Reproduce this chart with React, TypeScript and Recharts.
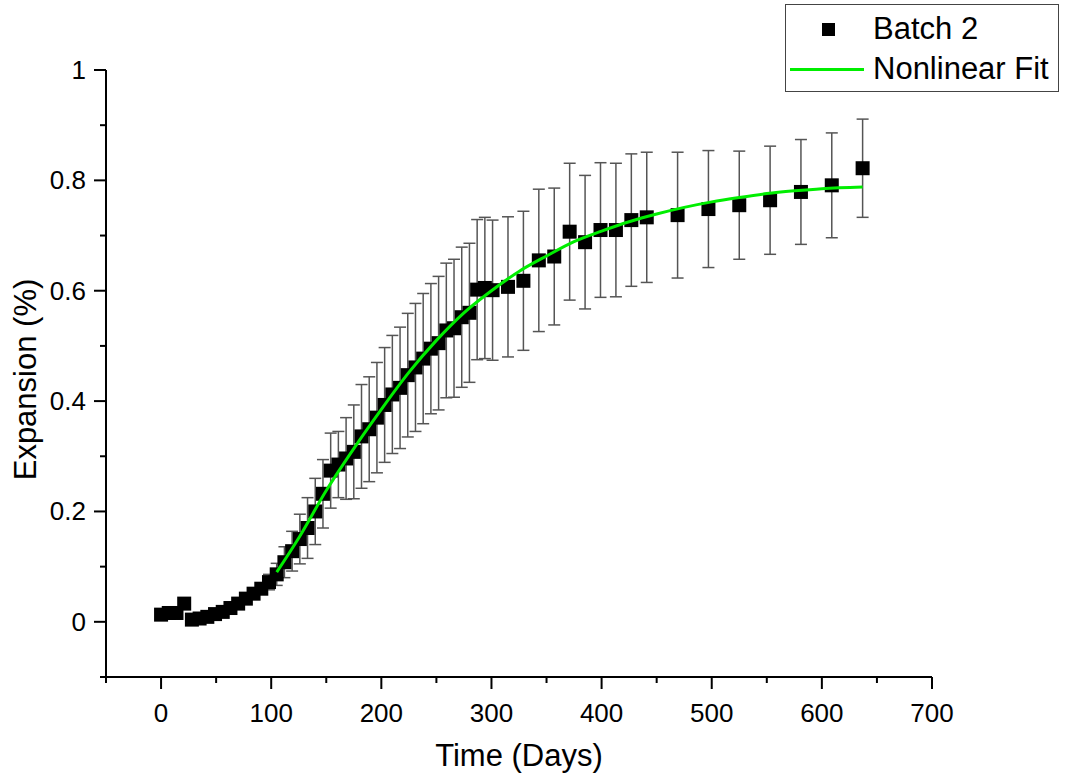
import React from "react";
import {
  ComposedChart, Line, XAxis, YAxis, ErrorBar,
} from "recharts";

// measured points (Batch 2)
const DAYS = [
  0, 7, 14, 21, 28, 35, 42, 49, 56, 63, 70, 77, 84, 91, 98, 105, 112, 119, 126, 133,
  140, 147, 154, 161, 168, 175, 182, 189, 196, 203, 210, 217, 224, 231, 238, 245, 252,
  259, 266, 273, 280, 287, 294, 301, 315, 329, 343, 357, 371, 385, 399, 413, 427, 441,
  469, 497, 525, 553, 581, 609, 637,
];
const EXPANSION = [
  0.013, 0.016, 0.016, 0.033, 0.004, 0.006, 0.009, 0.014, 0.018, 0.025, 0.033, 0.042,
  0.051, 0.060, 0.072, 0.086, 0.108, 0.128, 0.150, 0.170, 0.200, 0.232, 0.274, 0.285,
  0.296, 0.308, 0.336, 0.349, 0.370, 0.393, 0.412, 0.424, 0.447, 0.461, 0.477, 0.495,
  0.505, 0.528, 0.532, 0.552, 0.560, 0.602, 0.605, 0.601, 0.607, 0.618, 0.655, 0.662,
  0.707, 0.688, 0.710, 0.710, 0.728, 0.733, 0.737, 0.748, 0.755, 0.764, 0.779, 0.791,
  0.822,
];
const ERRORS = [
  0.004, 0.004, 0.004, 0.004, 0.004, 0.004, 0.004, 0.004, 0.004, 0.004, 0.005, 0.006,
  0.008, 0.010, 0.014, 0.020, 0.028, 0.036, 0.045, 0.055, 0.060, 0.062, 0.068, 0.060,
  0.074, 0.085, 0.094, 0.095, 0.100, 0.104, 0.107, 0.110, 0.112, 0.116, 0.118, 0.118,
  0.121, 0.122, 0.125, 0.127, 0.126, 0.127, 0.128, 0.127, 0.127, 0.126, 0.129, 0.124,
  0.124, 0.121, 0.122, 0.121, 0.120, 0.118, 0.114, 0.106, 0.098, 0.098, 0.095, 0.095,
  0.089,
];

// nonlinear fit curve
const FIT_DAYS = [105, 125, 150, 175, 200, 225, 250, 275, 300, 325, 350, 375, 400, 425, 450, 475, 500, 525, 550, 575, 600, 637];
const FIT_VALUES = [0.09, 0.152, 0.238, 0.314, 0.385, 0.452, 0.51, 0.56, 0.60, 0.635, 0.663, 0.689, 0.708, 0.725, 0.739, 0.751, 0.761, 0.769, 0.776, 0.781, 0.785, 0.788];

const X_TICKS = [-50, 0, 50, 100, 150, 200, 250, 300, 350, 400, 450, 500, 550, 600, 650, 700];
const X_MAJOR = [0, 100, 200, 300, 400, 500, 600, 700];
const Y_TICKS = [-0.1, 0, 0.1, 0.2, 0.3, 0.4, 0.5, 0.6, 0.7, 0.8, 0.9, 1];
const Y_MAJOR = [0, 0.2, 0.4, 0.6, 0.8, 1];

const FONT = "'Liberation Sans', Arial, sans-serif";
const GREEN = "#00ee00";

const points = DAYS.map((d, i) => ({ day: d, value: EXPANSION[i], err: ERRORS[i] }));
const fit = FIT_DAYS.map((d, i) => ({ day: d, value: FIT_VALUES[i] }));

function XTick({ x, y, payload }: any) {
  const major = X_MAJOR.includes(payload.value);
  return (
    <g>
      <line x1={x} x2={x} y1={y} y2={y + (major ? 12 : 6)} stroke="#000" strokeWidth={2} />
      {major && (
        <text x={x} y={y + 45} textAnchor="middle" fontSize={26} fontFamily={FONT} fill="#000">
          {payload.value}
        </text>
      )}
    </g>
  );
}

function YTick({ x, y, payload }: any) {
  const major = Y_MAJOR.includes(payload.value);
  return (
    <g>
      <line x1={x - (major ? 12 : 6)} x2={x} y1={y} y2={y} stroke="#000" strokeWidth={2} />
      {major && (
        <text x={x - 20} y={y + 9} textAnchor="end" fontSize={26} fontFamily={FONT} fill="#000">
          {payload.value}
        </text>
      )}
    </g>
  );
}

function Square({ cx, cy }: any) {
  return <rect x={cx - 7} y={cy - 7} width={14} height={14} fill="#000" />;
}

export default function App() {
  const lineProps: any = { zIndex: 2000 };
  const pointProps: any = { zIndex: 100 };
  return (
    <div style={{ position: "absolute", left: 0, top: 0, width: 1069, height: 779, background: "#fff" }}>
      <ComposedChart width={1069} height={779} margin={{ top: 70, right: 137, left: 0, bottom: 0 }}>
        <XAxis
          dataKey="day" type="number" domain={[-50, 700]} ticks={X_TICKS} interval={0}
          allowDataOverflow height={102} tickSize={0} tickMargin={0}
          axisLine={{ stroke: "#000", strokeWidth: 2 }} tickLine={false} tick={<XTick />}
          label={{
            content: (p: any) => (
              <text x={p.viewBox.x + p.viewBox.width / 2} y={p.viewBox.y + 89} textAnchor="middle"
                fontSize={31} fontFamily={FONT} fill="#000">Time (Days)</text>
            ),
          }}
        />
        <YAxis
          dataKey="value" type="number" domain={[-0.1, 1]} ticks={Y_TICKS} interval={0}
          allowDataOverflow width={106} tickSize={0} tickMargin={0}
          axisLine={{ stroke: "#000", strokeWidth: 2 }} tickLine={false} tick={<YTick />}
          label={{
            content: (p: any) => (
              <text x={36} y={p.viewBox.y + p.viewBox.height / 2 + 6} textAnchor="middle"
                transform={`rotate(-90 36 ${p.viewBox.y + p.viewBox.height / 2 + 6})`}
                fontSize={31} fontFamily={FONT} fill="#000">Expansion (%)</text>
            ),
          }}
        />
        <Line data={points} dataKey="value" stroke="none" dot={<Square />} activeDot={false}
          isAnimationActive={false} {...pointProps}>
          <ErrorBar dataKey="err" direction="y" width={6} stroke="#555" strokeWidth={1.5} />
        </Line>
        <Line data={fit} dataKey="value" type="monotone" stroke={GREEN} strokeWidth={3}
          dot={false} activeDot={false} isAnimationActive={false} {...lineProps} />
      </ComposedChart>
      <div style={{
        position: "absolute", left: 785, top: 4, width: 272, height: 86,
        border: "1.5px solid #444", background: "#fff", fontFamily: FONT, fontSize: 31, color: "#000",
      }}>
        <div style={{ position: "absolute", left: 36, top: 18, width: 13, height: 13, background: "#000" }} />
        <div style={{ position: "absolute", left: 87, top: 6, lineHeight: "36px" }}>Batch 2</div>
        <div style={{ position: "absolute", left: 4, top: 63, width: 74, height: 3, background: GREEN }} />
        <div style={{ position: "absolute", left: 87, top: 46, lineHeight: "36px" }}>Nonlinear Fit</div>
      </div>
    </div>
  );
}
